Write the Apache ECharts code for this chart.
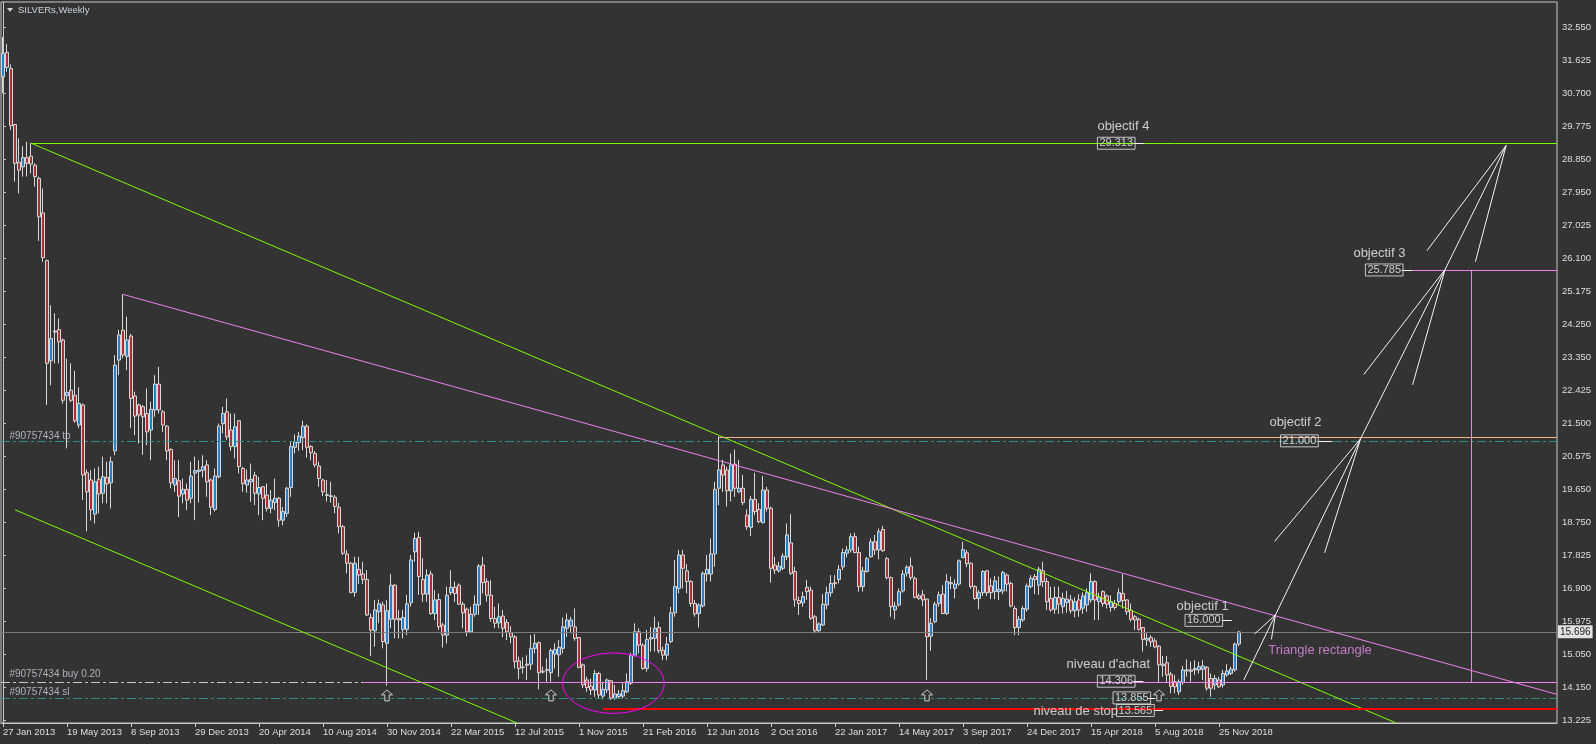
<!DOCTYPE html>
<html><head><meta charset="utf-8">
<script src="https://cdn.jsdelivr.net/npm/echarts@6/dist/echarts.min.js"></script>
<style>html,body{margin:0;padding:0;background:#333333;overflow:hidden}#c{width:1596px;height:744px}</style>
</head><body><div id="c"></div>
<script>
// ---- weekly candles (27 Jan 2013 .. 30 Dec 2018) ----
const opens=[31.16,31.84,31.39,29.83,28.78,28.65,28.91,28.95,28.70,28.33,27.37,26.04,23.25,24.05,24.12,23.83,22.28,22.43,22.29,21.46,
22.02,20.13,19.93,18.98,19.95,19.56,20.00,19.85,20.74,23.27,24.10,23.37,23.94,22.27,22.02,21.97,21.78,21.32,21.88,22.60,
21.83,21.43,20.78,19.79,19.91,19.54,19.67,19.42,20.12,20.17,20.20,20.35,19.93,19.11,20.02,21.50,21.83,21.32,20.86,21.58,
20.25,19.79,19.88,20.06,19.54,19.74,19.51,19.14,19.30,19.42,18.81,19.00,19.72,20.84,20.97,21.11,21.43,20.86,20.67,20.32,
19.93,19.50,19.49,19.45,19.17,18.63,17.87,17.61,16.80,17.44,17.31,17.16,16.10,15.73,16.26,16.45,15.38,16.05,17.00,16.07,
15.77,15.77,16.51,17.93,18.33,17.16,16.75,17.31,16.21,16.60,15.89,15.61,16.79,16.94,17.00,16.47,16.33,15.70,16.19,16.45,
17.56,17.10,16.72,16.07,15.95,16.14,15.96,15.67,15.56,14.89,14.72,14.77,14.80,15.24,15.40,14.60,14.63,14.56,15.08,15.06,
15.24,15.80,15.86,15.84,15.54,14.78,14.36,14.19,14.08,14.54,13.91,14.08,14.34,13.85,13.90,13.91,14.03,14.27,15.05,15.70,
15.33,14.68,15.50,15.52,15.82,15.19,15.05,15.43,16.23,16.91,17.84,17.40,17.10,16.49,16.21,16.42,17.31,17.31,17.87,19.70,
20.35,20.21,19.63,20.37,19.60,19.70,18.95,18.61,19.39,19.11,18.74,19.65,19.14,17.56,17.40,17.47,17.79,18.18,17.38,16.57,
16.51,16.94,16.86,16.12,15.73,15.89,16.45,16.79,17.07,17.16,17.51,17.89,17.98,18.35,17.91,16.96,17.38,17.79,18.21,17.98,
18.55,17.74,17.21,16.31,16.45,16.84,17.33,17.53,17.19,16.70,16.73,16.61,15.58,15.98,16.49,16.75,16.21,17.07,16.91,17.03,
17.77,17.90,17.61,16.96,16.63,16.79,17.40,16.98,16.82,16.82,16.84,17.28,17.05,16.35,15.82,16.03,16.33,16.96,17.24,17.00,
17.40,17.10,16.63,16.33,16.66,16.40,16.52,16.59,16.29,16.59,16.36,16.45,16.59,17.10,16.54,16.82,16.70,16.38,16.49,16.54,
16.77,16.59,16.30,16.12,16.05,15.82,15.47,15.54,15.45,15.30,14.76,14.84,14.52,14.31,14.03,14.29,14.61,14.64,14.64,14.64,
14.66,14.71,14.40,14.22,14.36,14.22,14.50,14.54,14.64,15.36];
const highs=[32.27,32.07,31.51,29.85,29.45,29.23,29.35,29.31,28.75,28.38,28.05,26.07,24.80,24.57,24.43,23.87,23.31,23.18,22.97,22.51,
22.06,20.22,20.20,20.25,20.30,20.58,20.44,20.58,23.41,24.11,25.10,24.48,24.00,22.39,22.06,22.02,22.48,22.11,22.85,23.08,
21.88,21.46,20.81,20.48,20.48,19.97,19.83,20.44,20.58,20.48,20.62,20.48,19.97,20.25,21.50,21.97,22.20,21.78,21.78,21.60,
20.30,20.22,20.39,20.16,20.02,19.76,19.83,19.65,19.97,19.46,19.18,19.74,20.99,21.20,21.27,21.58,21.48,20.90,20.74,20.44,
19.97,19.93,19.88,19.51,19.30,18.68,17.98,17.65,17.79,17.79,17.65,17.42,16.21,16.59,16.60,16.54,16.59,17.31,17.03,16.31,
16.31,16.73,17.84,18.46,18.49,17.75,17.44,17.40,16.86,16.77,15.95,16.96,17.42,17.10,17.05,16.54,16.38,16.40,16.72,17.59,
17.79,17.19,17.14,16.40,16.49,16.31,16.05,15.86,15.61,15.01,14.99,15.05,15.61,15.64,15.43,14.73,14.96,15.24,15.38,15.47,
16.10,16.21,16.12,16.35,15.56,14.82,14.45,14.40,14.64,14.59,14.31,14.40,14.36,14.22,14.08,14.27,14.54,15.12,15.94,15.80,
15.38,15.75,15.84,16.12,15.98,15.29,15.56,16.40,17.70,17.98,17.98,17.59,17.14,16.59,16.49,17.38,17.84,18.30,19.88,21.14,
20.49,20.30,20.67,20.78,20.49,20.07,19.11,19.48,20.13,19.28,20.04,19.74,19.19,17.79,17.65,17.89,18.72,18.98,17.51,16.68,
16.82,17.14,16.96,16.17,15.96,16.75,16.96,17.28,17.28,17.56,18.02,18.09,18.44,18.46,18.07,17.51,17.79,18.30,18.40,18.58,
18.65,17.79,17.24,16.54,16.91,17.42,17.56,17.77,17.24,16.77,16.86,16.63,16.08,16.54,16.82,17.00,17.31,17.24,17.16,17.72,
18.21,17.98,17.63,17.00,16.86,17.42,17.42,17.19,17.26,17.24,17.40,17.33,17.10,16.42,16.14,16.42,17.05,17.28,17.31,17.51,
17.65,17.20,16.96,16.96,16.96,16.79,16.84,16.73,16.66,16.75,16.80,16.91,17.33,17.14,16.79,16.86,16.75,16.72,16.59,16.91,
17.31,16.61,16.49,16.17,16.10,15.84,15.66,15.61,15.52,15.33,15.03,15.03,14.59,14.50,14.38,14.75,14.93,14.87,14.91,14.87,
14.91,14.75,14.54,14.50,14.45,14.64,14.80,14.73,15.40,15.73];
const lows=[30.70,31.30,29.68,28.24,27.91,28.38,28.38,28.47,28.10,26.59,26.01,22.02,22.57,23.18,23.18,22.06,20.81,22.10,21.52,21.37,
19.37,18.50,18.80,18.72,19.00,19.28,19.28,19.14,20.62,22.85,23.32,22.99,21.37,21.18,20.95,20.63,20.90,20.48,21.69,21.78,
21.27,20.48,19.70,19.60,18.90,19.28,19.09,19.28,18.81,19.30,20.00,19.46,18.95,19.05,19.97,21.23,21.04,20.74,20.53,20.11,
19.60,19.57,19.32,19.23,18.95,18.81,19.05,19.00,19.09,18.63,18.67,18.90,19.46,20.67,20.74,20.76,20.55,20.48,20.28,19.74,
19.48,19.33,19.30,19.00,18.44,17.84,17.33,16.77,16.68,17.03,17.03,16.14,15.03,15.29,15.94,15.24,14.20,15.80,15.52,15.52,
15.52,15.61,16.40,17.65,16.73,16.54,16.54,16.17,16.03,15.75,15.26,15.38,16.73,16.54,16.45,15.80,15.58,15.66,16.12,16.17,
16.77,16.54,15.98,15.80,15.80,15.55,15.47,15.38,14.68,14.38,14.54,14.36,14.64,15.10,14.10,14.54,14.31,14.31,14.68,14.45,
15.10,15.56,15.66,15.45,14.68,14.13,14.03,13.94,13.89,13.85,13.82,13.99,13.80,13.80,13.85,13.85,13.99,14.22,15.01,15.10,
14.64,14.59,15.15,15.15,15.10,14.91,14.91,15.38,16.12,16.77,16.91,16.77,16.40,16.12,15.82,16.38,17.10,17.10,17.51,19.23,
19.60,19.19,19.33,19.46,19.56,19.23,18.54,18.37,18.95,18.72,18.72,19.05,17.07,17.31,17.35,17.42,17.70,17.28,16.40,16.17,
16.40,16.59,16.03,15.66,15.68,15.86,16.33,16.68,16.91,17.05,17.42,17.77,17.91,17.89,16.82,16.82,17.35,17.77,17.84,17.72,
17.93,17.16,16.12,16.05,16.40,16.79,17.24,17.14,16.63,16.59,16.42,14.36,15.17,15.94,16.40,16.20,16.17,16.89,16.63,16.98,
17.75,17.50,16.90,16.59,16.33,16.70,16.70,16.61,16.61,16.59,16.75,16.82,16.38,15.61,15.61,15.98,16.26,16.91,16.75,16.73,
16.95,16.31,16.26,16.20,16.20,16.21,16.23,16.21,16.10,16.12,16.20,16.26,16.51,16.03,16.03,16.40,16.35,16.26,16.31,16.45,
16.35,16.17,15.98,15.75,15.73,15.15,15.31,15.28,15.24,14.31,14.45,14.31,13.99,13.99,13.94,14.22,14.45,14.31,14.50,14.54,
14.36,14.06,13.89,14.08,14.13,14.15,14.45,14.50,14.59,15.30];
const closes=[31.81,31.42,29.80,28.75,28.56,28.91,28.75,28.73,28.38,27.26,26.12,23.18,23.87,24.08,23.78,22.15,22.37,22.15,21.58,22.06,
20.07,19.60,19.10,19.88,19.54,20.02,19.82,20.44,23.13,23.97,23.41,23.83,22.20,21.71,21.74,21.69,21.27,21.90,22.60,21.88,
21.46,20.74,19.85,19.97,19.48,19.67,19.37,20.04,20.19,20.21,20.30,19.88,19.17,20.04,21.43,21.78,21.13,20.86,21.41,20.30,
19.83,19.93,19.95,19.56,19.72,19.42,19.14,19.37,19.42,18.81,19.05,19.70,20.86,20.99,21.15,21.43,20.84,20.69,20.35,19.97,
19.60,19.52,19.47,19.19,18.63,17.89,17.61,16.80,17.61,17.28,17.16,16.17,15.75,16.31,16.48,15.43,16.29,17.00,16.05,16.03,
16.10,16.48,17.70,18.30,17.24,16.75,17.28,16.21,16.59,15.84,15.61,16.72,16.94,16.77,16.47,16.23,15.70,16.19,16.47,17.53,
17.07,16.72,16.07,15.94,16.12,15.80,15.70,15.56,14.87,14.68,14.71,14.80,15.24,15.38,14.56,14.58,14.65,15.18,15.21,15.27,
15.84,16.03,16.03,15.52,14.71,14.22,14.15,14.08,14.54,13.94,14.10,14.36,13.85,13.97,13.97,14.06,14.31,15.05,15.70,15.33,
14.68,15.49,15.54,15.80,15.17,15.05,15.36,16.23,16.96,17.84,17.47,17.10,16.49,16.20,16.45,17.33,17.44,17.87,19.67,20.21,
20.07,19.63,20.35,19.70,19.70,19.30,18.63,19.39,19.05,18.77,19.65,19.14,17.47,17.42,17.53,17.81,18.40,17.33,16.59,16.49,
16.68,16.82,16.08,15.73,15.92,16.47,16.79,17.05,17.04,17.44,17.91,17.98,18.35,17.91,16.96,17.40,17.74,18.21,17.98,18.49,
17.96,17.21,16.40,16.42,16.82,17.31,17.50,17.21,16.66,16.63,16.59,15.56,15.94,16.47,16.73,16.21,17.10,17.04,17.03,17.68,
17.99,17.60,16.96,16.63,16.79,17.38,16.79,16.79,17.12,16.88,17.35,17.03,16.42,15.82,16.05,16.35,16.98,17.19,17.16,17.44,
17.10,16.54,16.31,16.66,16.47,16.63,16.61,16.29,16.54,16.31,16.70,16.79,17.10,16.59,16.66,16.49,16.47,16.54,16.38,16.79,
16.57,16.26,16.05,16.03,15.77,15.49,15.52,15.42,15.28,14.78,14.80,14.50,14.18,14.17,14.31,14.64,14.64,14.60,14.68,14.73,
14.75,14.13,14.13,14.40,14.17,14.54,14.61,14.66,15.36,15.696];

const weekCount = 389;                       // weeks shown on the time scale (incl. empty future)
const xTickLabels = ['27 Jan 2013','19 May 2013','8 Sep 2013','29 Dec 2013','20 Apr 2014','10 Aug 2014','30 Nov 2014',
 '22 Mar 2015','12 Jul 2015','1 Nov 2015','21 Feb 2016','12 Jun 2016','2 Oct 2016','22 Jan 2017','14 May 2017',
 '3 Sep 2017','24 Dec 2017','15 Apr 2018','5 Aug 2018','25 Nov 2018'];
const xTickEvery = 16;
const yTickLabels = ['13.225','14.150','15.050','15.975','16.900','17.825','18.750','19.650','20.575','21.500','22.425',
 '23.350','24.250','25.175','26.100','27.025','27.950','28.850','29.775','30.700','31.625','32.550'];
const yFirstTick = 13.225, yLastTick = 32.55;
const yMin = 13.161, yMax = 33.244;
const currentPrice = 15.696;

// price levels
const objectif4 = 29.313, objectif3 = 25.785, objectif2Line = 21.12, tpLevel = 21.0;
const buyLevel = 14.306, buyPinkLevel = 14.285, slLevel = 13.855, stopLevel = 13.565;
// trend lines [week, price]
const greenUpper = [[7, 29.313], [348.3, 13.161]];
const greenLower = [[3, 19.10], [128.5, 13.161]];
const pinkUpper = [[30, 25.10], [388.5, 13.958]];
// projection arrows: shaft start, tip, two head ends
const arrows = [
 [[310.2,14.36],[318.1,16.17],[312.9,15.64],[317.1,15.49]],
 [[318.1,16.17],[339.4,21.08],[317.9,18.22],[330.4,17.90]],
 [[339.4,21.08],[360.5,25.79],[340.2,22.87],[352.4,22.58]],
 [[360.5,25.79],[375.8,29.25],[356.0,26.32],[368.1,26.01]]
];
const buySignalWeeks = [96, 137, 231, 289];
const signalLevel = 13.93;
const ellipseCenter = [152.6, 14.27], ellipseRadius = [12.7, 0.84];
const annotations = [
 {i:273.6, p:29.77, text:'objectif 4', kind:'title'},
 {i:273.6, p:29.31, text:'29.313', kind:'box', tick:[282.7,285.3]},
 {i:337.6, p:26.25, text:'objectif 3', kind:'title'},
 {i:340.6, p:25.78, text:'25.785', kind:'box', tick:[349.7,352.2]},
 {i:316.6, p:21.53, text:'objectif 2', kind:'title'},
 {i:319.4, p:21.02, text:'21.000', kind:'box', tick:[329.0,332.3]},
 {i:293.4, p:16.40, text:'objectif 1', kind:'title'},
 {i:295.5, p:16.02, text:'16.000', kind:'box', tick:[304.7,307.2]},
 {i:265.9, p:14.78, text:"niveau d'achat", kind:'title'},
 {i:273.6, p:14.325, text:'14.306', kind:'box', tick:[282.6,285.1]},
 {i:257.6, p:13.49, text:'niveau de stop', kind:'title'},
 {i:278.4, p:13.51, text:'13.565', kind:'box', tick:[287.8,290.0]},
 {i:277.5, p:13.86, text:'13.855', kind:'box', tick:[286.4,288.0]},
 {i:316.3, p:15.17, text:'Triangle rectangle', kind:'pink'},
 {i:1.6, p:21.16, text:'#90757434 tp', kind:'order'},
 {i:1.6, p:14.51, text:'#90757434 buy 0.20', kind:'order'},
 {i:1.6, p:14.02, text:'#90757434 sl', kind:'order'}
];

// ---------------- chart ----------------
const FONT = '"Liberation Sans", Arial, sans-serif';
const AXIS = '#c8c8c8', TXT = '#dcdfe4';
const GREEN = '#7cfc00', VIOLET = '#ee82ee', TEAL = '#2f8c8c';
const xEnd = weekCount - 0.5;
const categories = Array.from({length: weekCount}, (_, i) => String(i));
const candleData = opens.map((o, i) => [o, closes[i], lows[i], highs[i]]);
const yStep = (yLastTick - yFirstTick) / (yTickLabels.length - 1);
const yTickValues = yTickLabels.map((_, k) => yFirstTick + k * yStep);
const showX = (idx) => idx % xTickEvery === 0 && idx / xTickEvery < xTickLabels.length;

function segs(list, color, width, dash, z) {
  return {type:'lines', coordinateSystem:'cartesian2d', xAxisIndex:1, yAxisIndex:0, polyline:false, silent:true,
    animation:false, z: z || 5, lineStyle:{color, width, type: dash || 'solid', opacity:1},
    data: list.map(c => ({coords:c}))};
}
const DASHDOT = [9,3,3,3];

const arrowSegs = [];
arrows.forEach(a => { arrowSegs.push([a[0], a[1]], [a[1], a[2]], [a[1], a[3]]); });
const boxTicks = annotations.filter(a => a.tick).map(a => [[a.tick[0], a.p], [a.tick[1], a.p]]);

const styles = {
  title: {fontSize:13, color:'#eef2f6'},
  box:   {fontSize:11, color:'#eef2f6', borderColor:'#e8e8e8', borderWidth:1, padding:[1,2,0,2]},
  pink:  {fontSize:13, color:'#e58ee8'},
  order: {fontSize:10, color:'#c8d2de'}
};

const chart = echarts.init(document.getElementById('c'), null, {renderer:'canvas'});
const option = {
  backgroundColor:'#333333',
  animation:false,
  textStyle:{fontFamily:FONT},
  grid:{left:1, right:39, top:2, bottom:21, show:true, borderColor:AXIS, borderWidth:1, backgroundColor:'transparent'},
  xAxis:[{
    type:'category', data:categories, boundaryGap:true, gridIndex:0,
    axisLine:{show:true, lineStyle:{color:AXIS, width:1}},
    axisTick:{show:true, alignWithLabel:true, interval:(i)=>showX(i), length:4, lineStyle:{color:AXIS}},
    axisLabel:{interval:(i)=>showX(i), formatter:(v,i)=>showX(i)?xTickLabels[i/xTickEvery]:'',
      align:'left', margin:4, color:TXT, fontSize:9.5, fontFamily:FONT},
    splitLine:{show:false}
  },{
    type:'value', min:-0.5, max:xEnd, show:false, gridIndex:0
  }],
  yAxis:[{
    type:'value', position:'right', min:yMin, max:yMax, scale:true,
    axisLine:{show:true, lineStyle:{color:AXIS, width:1}},
    axisTick:{show:true, customValues:yTickValues, length:3, lineStyle:{color:AXIS}},
    axisLabel:{customValues:yTickValues, margin:5, color:TXT, fontSize:9.5, fontFamily:FONT,
      formatter:(v)=>{const k=Math.round((v-yFirstTick)/yStep); return yTickLabels[k]||'';}},
    splitLine:{show:false}
  }],
  graphic:[
    {type:'polygon', shape:{points:[[7,8],[13,8],[10,12]]}, style:{fill:'#d0d4da'}, z:100},
    {type:'text', left:18, top:5, style:{text:'SILVERs,Weekly', fill:'#c8d2de', font:'9.5px '+FONT}, z:100}
  ],
  series:[
    {type:'candlestick', name:'SILVERs', xAxisIndex:0, yAxisIndex:0, data:candleData, barWidth:3, z:3,
      itemStyle:{color:'#2580d0', color0:'#a83232', borderColor:'#d8d8d8', borderColor0:'#d8d8d8', borderWidth:1},
      markLine:{silent:true, symbol:['none','none'], animation:false,
        data:[{yAxis:currentPrice}],
        lineStyle:{color:'#7c7c7c', width:1, type:'solid'},
        label:{show:true, position:'end', distance:1, formatter:currentPrice.toFixed(3),
          backgroundColor:'#e2e2e2', color:'#1c1c1c', fontSize:10, fontFamily:FONT, padding:[2,2,1,2]}}
    },
    segs([[[-0.5,tpLevel],[xEnd,tpLevel]], [[-0.5,slLevel],[xEnd,slLevel]]], TEAL, 1, DASHDOT, 4),
    segs([[[-0.5,buyLevel],[xEnd,buyLevel]]], '#c8c8c8', 1, DASHDOT, 4),
    segs([[[7,objectif4],[xEnd,objectif4]], greenUpper, greenLower], GREEN, 1),
    segs([[[179,objectif2Line],[xEnd,objectif2Line]]], '#f2b184', 1),
    segs([[[352,objectif3],[xEnd,objectif3]], [[367,objectif3],[367,buyLevel]], [[90,buyPinkLevel],[xEnd,buyPinkLevel]], pinkUpper], VIOLET, 1),
    segs([[[150,stopLevel],[xEnd,stopLevel]]], '#ff0000', 2),
    segs(arrowSegs.concat(boxTicks), '#f4f4f4', 1, 'solid', 6),
    {type:'scatter', xAxisIndex:1, yAxisIndex:0, silent:true, z:7, symbol:'path://M5,0L10,5L7,5L7,11L3,11L3,5L0,5Z',
      symbolSize:[11,11], itemStyle:{color:'#333333', borderColor:'#f2f2f2', borderWidth:1},
      data: buySignalWeeks.map(w => [w, signalLevel])},
    {type:'scatter', xAxisIndex:1, yAxisIndex:0, silent:true, z:8, symbolSize:0,
      data: annotations.map(a => ({value:[a.i, a.p],
        label:Object.assign({show:true, position:'right', distance:0, formatter:a.text, fontFamily:FONT}, styles[a.kind])}))}
  ]
};
chart.setOption(option);
// magenta ellipse placed through the chart's own scales
const c0 = chart.convertToPixel({seriesIndex:1}, ellipseCenter);
const c1 = chart.convertToPixel({seriesIndex:1}, [ellipseCenter[0]+ellipseRadius[0], ellipseCenter[1]+ellipseRadius[1]]);
chart.setOption({graphic: option.graphic.concat([{type:'ellipse', z:90,
  shape:{cx:c0[0], cy:c0[1], rx:Math.abs(c1[0]-c0[0]), ry:Math.abs(c0[1]-c1[1])},
  style:{fill:'none', stroke:'#ff00ff', lineWidth:1}}])});
</script></body></html>
